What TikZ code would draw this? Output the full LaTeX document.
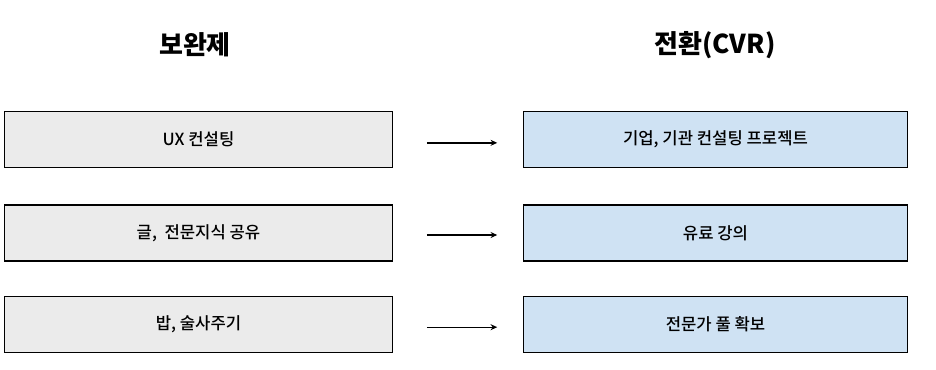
\documentclass[tikz,border=0pt]{standalone}
\usepackage{fontspec}
\setmainfont{Noto Sans CJK KR}
\newfontfamily\medfont{Noto Sans CJK KR Medium}
\usepackage{tikz}
\usetikzlibrary{arrows.meta,positioning}
\definecolor{boxgray}{HTML}{EBEBEB}
\definecolor{boxblue}{HTML}{CFE2F3}

\tikzset{
  srcbox/.style={draw=black, line width=1.4pt, fill=boxgray, minimum width=291pt, minimum height=42pt, font=\medfont\fontsize{12.5}{15}\selectfont},
  cvrbox/.style={srcbox, fill=boxblue, minimum width=288pt},
  colhead/.style={font=\fontsize{19.5}{23}\selectfont\bfseries},
  flow/.style={-{Stealth[length=5pt,width=4.5pt]}, line width=1pt, shorten <=25pt, shorten >=19pt}
}

\begin{document}
\begin{tikzpicture}[x=0.75pt, y=-0.75pt]
\useasboundingbox (0,0) rectangle (936,369);
% column titles
\node[colhead] (hsrc) at (195,45) {보완제};
\node[colhead] (hcvr) at (715,45) {전환(CVR)};
% left column
\node[srcbox] (src1) at (198.5,139.5) {UX 컨설팅};
\node[srcbox] (src2) at (198.5,233) {글,\ \ 전문지식 공유};
\node[srcbox] (src3) at (198.5,324.5) {밥, 술사주기};
% right column
\node[cvrbox] (cvr1) at (715.5,139.5) {기업, 기관 컨설팅 프로젝트};
\node[cvrbox] (cvr2) at (715.5,233) {유료 강의};
\node[cvrbox] (cvr3) at (715.5,324.5) {전문가 풀 확보};
% arrows
\draw[flow] ([yshift=-2.5pt]src1.east) -- ([yshift=-2.5pt]cvr1.west);
\draw[flow] ([yshift=-1.5pt]src2.east) -- ([yshift=-1.5pt]cvr2.west);
\draw[flow] ([yshift=-2pt]src3.east) -- ([yshift=-2pt]cvr3.west);
\end{tikzpicture}
\end{document}
